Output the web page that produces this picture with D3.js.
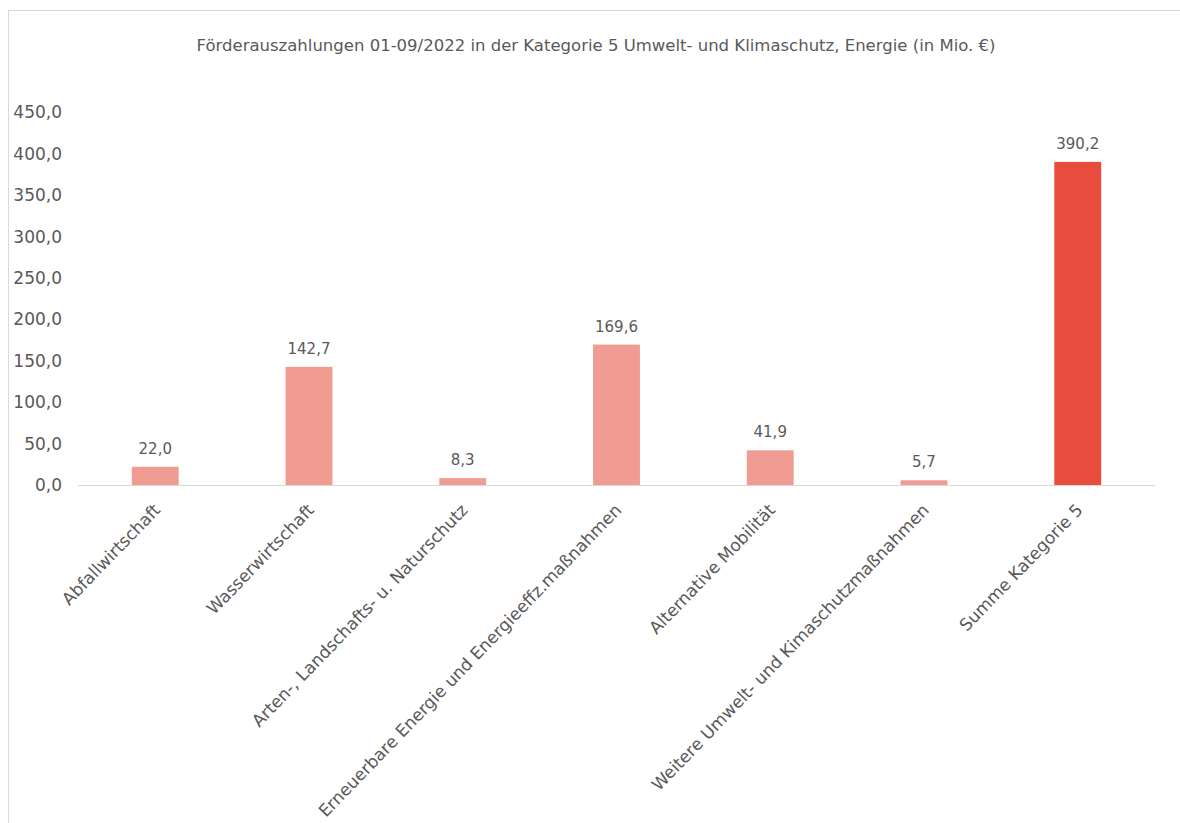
<!DOCTYPE html>
<html>
<head>
<meta charset="utf-8">
<script src="https://cdn.jsdelivr.net/npm/d3@7/dist/d3.min.js"></script>
<style>
  html, body { margin: 0; padding: 0; background: #fff; }
  svg { display: block; }
  svg text { font-family: "DejaVu Sans", "Open Sans", sans-serif; }
</style>
</head>
<body>
<svg id="chart" width="1180" height="823"></svg>
<script>
const categories = [
  "Abfallwirtschaft",
  "Wasserwirtschaft",
  "Arten-, Landschafts- u. Naturschutz",
  "Erneuerbare Energie und Energieeffz.maßnahmen",
  "Alternative Mobilität",
  "Weitere Umwelt- und Kimaschutzmaßnahmen",
  "Summe Kategorie 5"
];
const values = [22.0, 142.7, 8.3, 169.6, 41.9, 5.7, 390.2];
const yTicks = [0, 50, 100, 150, 200, 250, 300, 350, 400, 450];
const title = "Förderauszahlungen 01-09/2022 in der Kategorie 5 Umwelt- und Klimaschutz, Energie (in Mio. €)";

const svg = d3.select("#chart");
const textColor = "#595959";
const fmt = v => d3.format(".1f")(v).replace(".", ",");

// chart frame
svg.append("rect")
  .attr("x", 8.5).attr("y", 10.5)
  .attr("width", 1200).attr("height", 900)
  .attr("fill", "none").attr("stroke", "#d9d9d9").attr("stroke-width", 1);

const x = d3.scaleBand().domain(categories).range([78, 1155]).paddingInner(0.695).paddingOuter(0.35);
const y = d3.scaleLinear().domain([0, 450]).range([485, 112.4]);

// title
svg.append("text")
  .attr("x", 596).attr("y", 51)
  .attr("text-anchor", "middle")
  .attr("fill", textColor)
  .attr("font-size", 16.5)
  .text(title);

// y axis labels (no axis line, no gridlines)
const yAxis = d3.axisLeft(y).tickValues(yTicks).tickFormat(fmt).tickSize(0).tickPadding(0);
const gy = svg.append("g").attr("transform", "translate(62,0)").call(yAxis);
gy.attr("font-family", null).attr("font-size", null);
gy.select(".domain").remove();
gy.selectAll("text").attr("fill", textColor).attr("font-size", 17);

// bars
svg.append("g").selectAll("rect")
  .data(categories)
  .join("rect")
  .attr("x", d => x(d))
  .attr("width", x.bandwidth())
  .attr("y", (d, i) => y(values[i]))
  .attr("height", (d, i) => y(0) - y(values[i]))
  .attr("fill", (d, i) => i === categories.length - 1 ? "#E84C3D" : "#F19C93");

// x axis baseline and rotated labels
const xAxis = d3.axisBottom(x).tickSize(0).tickPadding(0);
const gx = svg.append("g").attr("transform", `translate(0,${y(0)})`).call(xAxis);
gx.attr("font-family", null).attr("font-size", null);
gx.select(".domain").attr("stroke", "#d9d9d9").attr("d", "M78,0.5H1155");
gx.selectAll(".tick text")
  .attr("fill", textColor)
  .attr("font-size", 17)
  .attr("text-anchor", "end")
  .attr("dy", 0)
  .attr("transform", "translate(6,26) rotate(-46)");

// value labels
svg.append("g").selectAll("text")
  .data(categories)
  .join("text")
  .attr("x", d => x(d) + x.bandwidth() / 2)
  .attr("y", (d, i) => y(values[i]) - 13)
  .attr("text-anchor", "middle")
  .attr("fill", textColor)
  .attr("font-size", 15)
  .text((d, i) => fmt(values[i]));
</script>
</body>
</html>
